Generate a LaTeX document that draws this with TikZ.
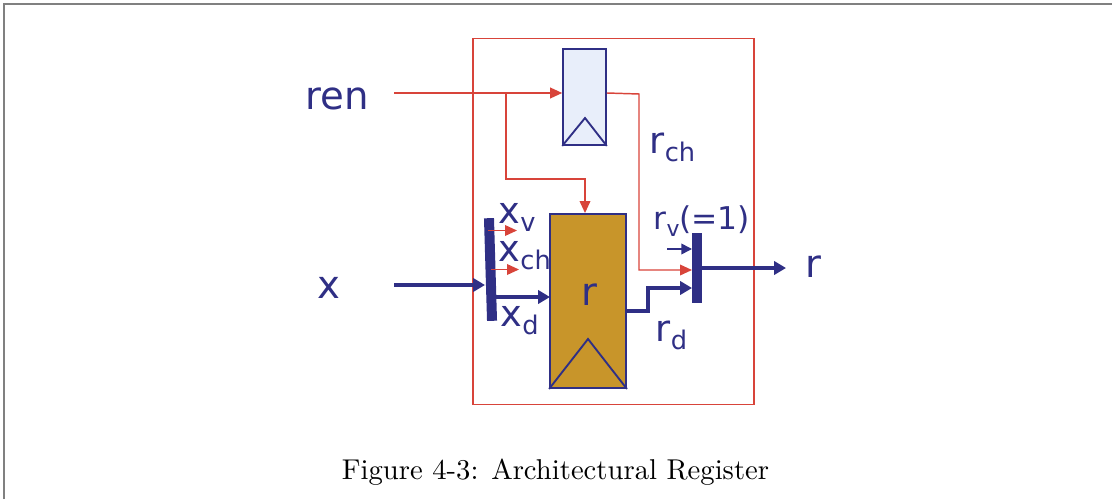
\documentclass[tikz,border=0pt]{standalone}
\usepackage{fontspec}
\newfontfamily\dv{DejaVu Sans}
\usetikzlibrary{arrows.meta}
\definecolor{navy}{HTML}{2F2F85}
\definecolor{redl}{HTML}{D8443A}
\definecolor{gold}{HTML}{C8952A}
\definecolor{pale}{HTML}{E8EEFA}
\tikzset{
 lab/.style={text=navy,font=\dv,inner sep=0pt,anchor=base west},
 big lab/.style={lab,scale=2.9},
 sub lab/.style={lab,scale=2.75},
 red line/.style={draw=redl,line width=1.1pt},
 red arrow/.style={red line,-{Triangle[length=9pt,width=8pt]}},
 blue arrow/.style={draw=navy,line width=3pt,-{Triangle[length=9pt,width=10pt]}},
 thin blue arrow/.style={draw=navy,line width=1.2pt,-{Triangle[length=8pt,width=8pt]}},
 busbar/.style={fill=navy,draw=none,inner sep=0pt},
 reg/.style={draw=navy,line width=1.4pt,inner sep=0pt},
}
\newcommand{\labsub}[2]{#1\raisebox{-2.4pt}{\scriptsize #2}}
\begin{document}
\begin{tikzpicture}[x=0.75pt,y=-0.75pt]
\useasboundingbox (0,0) rectangle (1112,499);
\draw[gray,line width=1pt] (4,499) -- (4,4) -- (1112,4);
\node[draw=redl,line width=1.1pt,minimum width=210.5pt,minimum height=274.5pt,inner sep=0pt] (outer) at (613.5,221.5) {};
% registers
\node[reg,fill=pale,minimum width=32pt,minimum height=72pt] (ch) at (584.5,97) {};
\draw[navy,line width=1.4pt] (ch.south west) -- (585,118) -- (ch.south east);
\node[reg,fill=gold,minimum width=57pt,minimum height=130.5pt] (r) at (588,301) {};
\draw[navy,line width=1.4pt] (r.south west) -- (588,339) -- (r.south east);
\node[text=navy,font=\dv,scale=2.9,inner sep=0pt,anchor=base] (rname) at (589,305) {r};
% bars
\node[busbar,minimum width=7.5pt,minimum height=77pt,rotate=1.7] (xbar) at (490.5,269.5) {};
\node[busbar,minimum width=7pt,minimum height=52pt] (rbar) at (697,268) {};
% coordinates
\coordinate (renstart) at (394,93);
\coordinate (renj) at (506,93);
\coordinate (xstart) at (394,285);
\coordinate (rend) at (786,268);
\coordinate (rtop) at (585,179);
% red wires
\draw[red arrow] (renstart) -- (ch.west |- renstart);
\draw[red arrow] (renj) -- (506,179) -- (rtop) -- (rtop |- r.north);
\draw[red arrow] (ch.east |- renstart) -- (639,94) -- (639,270) -- (692,270);
\draw[red arrow] (488,230.5) -- (517,230.5);
\draw[red arrow] (491,269.5) -- (519,269.5);
% blue wires
\draw[blue arrow] (xstart) -- (485,285);
\draw[blue arrow] (496,297) -- (550,297);
\draw[blue arrow] (627,311) -- (648,311) -- (648,288) -- (692,288);
\draw[thin blue arrow] (667,249) -- (692,249);
\draw[blue arrow] (rbar.east |- rend) -- (rend);
% labels
\node[big lab] (ren) at (305,110) {ren};
\node[big lab] (x) at (317,298) {x};
\node[big lab] (rout) at (805,277) {r};
\node[sub lab] (xv) at (498,223) {\labsub{x}{v}};
\node[sub lab] (xch) at (498,261) {\labsub{x}{ch}};
\node[sub lab] (xd) at (500,326) {\labsub{x}{d}};
\node[sub lab] (rch) at (649,153) {\labsub{r}{ch}};
\node[lab,scale=2.35] (rv) at (653,229) {\labsub{r}{v}(=1)};
\node[sub lab] (rd) at (655,341) {\labsub{r}{d}};
\node[anchor=base,inner sep=0pt,scale=2.15] (cap) at (555.5,479) {Figure 4-3: Architectural Register};
\end{tikzpicture}
\end{document}
